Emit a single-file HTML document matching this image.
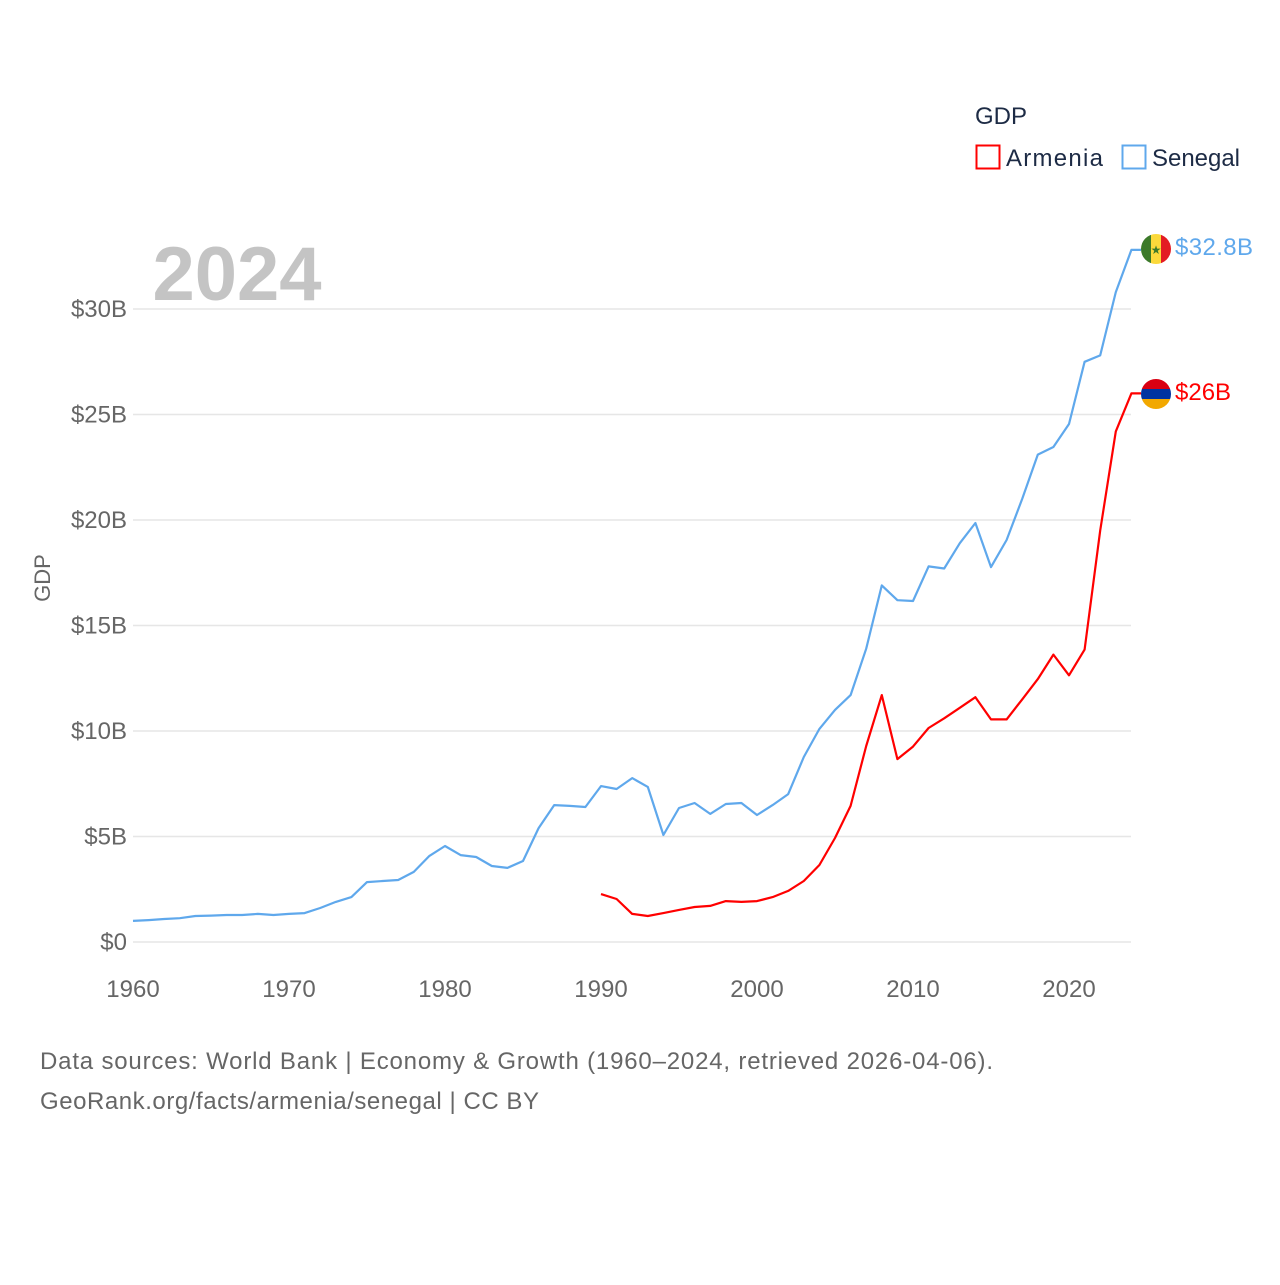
<!DOCTYPE html>
<html><head><meta charset="utf-8"><style>
body{margin:0;background:#fff;font-family:"Liberation Sans",sans-serif}
svg text{font-family:"Liberation Sans",sans-serif}
</style></head><body>
<svg width="1280" height="1280" viewBox="0 0 1280 1280">
<g id="grid"></g>
<g id="yt"></g>
<g id="xt"></g>
<text x="237" y="300" font-size="76" font-weight="bold" fill="#c4c4c4" text-anchor="middle">2024</text>
<text x="50" y="578" font-size="22" fill="#666" text-anchor="middle" transform="rotate(-90 50 578)">GDP</text>
<g id="series"></g>
<g>
<text x="975" y="124" font-size="24" fill="#1d2b45">GDP</text>
<g><rect x="976.5" y="145.5" width="23" height="23" fill="none" stroke="#f00" stroke-width="2"/><text x="1006" y="166" font-size="24" fill="#1d2b45" textLength="97">Armenia</text></g>
<g><rect x="1122.5" y="145.5" width="23" height="23" fill="none" stroke="#5fa8ec" stroke-width="2"/><text x="1152" y="166" font-size="24" fill="#1d2b45" textLength="88">Senegal</text></g>
</g>
<g>
<clipPath id="c1"><circle cx="1156" cy="249" r="15"/></clipPath>
<g clip-path="url(#c1)"><rect x="1141" y="234" width="10" height="30" fill="#3c7a2a"/><rect x="1151" y="234" width="10" height="30" fill="#fbd93b"/><rect x="1161" y="234" width="10" height="30" fill="#e31b23"/></g>
<text x="1156" y="254" font-size="12" fill="#3c7a2a" text-anchor="middle">★</text></g>
<g>
<clipPath id="c2"><circle cx="1156" cy="394" r="15"/></clipPath>
<g clip-path="url(#c2)"><rect x="1141" y="379" width="30" height="10" fill="#d90012"/><rect x="1141" y="389" width="30" height="10" fill="#0033a0"/><rect x="1141" y="399" width="30" height="10" fill="#f2a800"/></g></g>
<text x="1175" y="255" font-size="24" fill="#5fa8ec" textLength="78">$32.8B</text>
<text x="1175" y="400" font-size="24" fill="#f00">$26B</text>
<text x="40" y="1069" font-size="24" fill="#666" textLength="953">Data sources: World Bank | Economy &amp; Growth (1960–2024, retrieved 2026-04-06).</text>
<text x="40" y="1109" font-size="24" fill="#666" textLength="499">GeoRank.org/facts/armenia/senegal | CC BY</text>
</svg>
<script>
const yTicks=[0,5,10,15,20,25,30];
const yTickLabels=["$0","$5B","$10B","$15B","$20B","$25B","$30B"];
const xTicks=[1960,1970,1980,1990,2000,2010,2020];
const senegalStart=1960;
const senegalValues=[1.0,1.04,1.09,1.13,1.23,1.25,1.28,1.28,1.33,1.28,1.33,1.37,1.61,1.9,2.13,2.84,2.89,2.94,3.32,4.08,4.55,4.12,4.03,3.6,3.51,3.84,5.4,6.49,6.45,6.4,7.39,7.25,7.77,7.35,5.07,6.35,6.59,6.07,6.54,6.59,6.02,6.49,7.01,8.77,10.1,11.0,11.7,13.9,16.9,16.2,16.16,17.8,17.7,18.9,19.86,17.77,19.05,21.0,23.1,23.46,24.55,27.5,27.8,30.8,32.8];
const armeniaStart=1990;
const armeniaValues=[2.27,2.04,1.33,1.23,1.37,1.52,1.66,1.71,1.94,1.9,1.94,2.13,2.42,2.89,3.65,4.93,6.45,9.29,11.7,8.67,9.26,10.14,10.6,11.1,11.6,10.55,10.55,11.5,12.46,13.62,12.64,13.86,19.5,24.2,26.0];
const NS="http://www.w3.org/2000/svg";
const X=yr=>133+(yr-1960)*15.6;
const Y=v=>942-v*21.1;
function mk(t,a){const e=document.createElementNS(NS,t);for(const k in a)e.setAttribute(k,a[k]);return e;}
const grid=document.getElementById('grid'),yt=document.getElementById('yt'),xt=document.getElementById('xt'),ser=document.getElementById('series');
yTicks.forEach((v,i)=>{
 const l=mk('line',{x1:133,x2:1131,y1:Y(v),y2:Y(v),stroke:'#e6e6e6','stroke-width':1.5});
 
 
 grid.appendChild(l);
 const t=mk('text',{x:127,y:Y(v)+8,'font-size':24,fill:'#666','text-anchor':'end'});
 t.textContent=yTickLabels[i];
 
 
 yt.appendChild(t);
});
xTicks.forEach(yr=>{
 const t=mk('text',{x:X(yr),y:997,'font-size':24,fill:'#666','text-anchor':'middle'});
 t.textContent=yr;
 
 
 xt.appendChild(t);
});
function line(start,vals,color,name){
 let d=vals.map((v,i)=>(i?'L':'M')+X(start+i).toFixed(1)+','+Y(v).toFixed(1)).join('');
 d+='L1141,'+Y(vals[vals.length-1]).toFixed(1);
 const p=mk('path',{d:d,fill:'none',stroke:color,'stroke-width':2.2,'stroke-linejoin':'round'});
 
 
 ser.appendChild(p);
}
line(senegalStart,senegalValues,'#5fa8ec','senegal-line');
line(armeniaStart,armeniaValues,'#ff0000','armenia-line');
</script>
</body></html>
